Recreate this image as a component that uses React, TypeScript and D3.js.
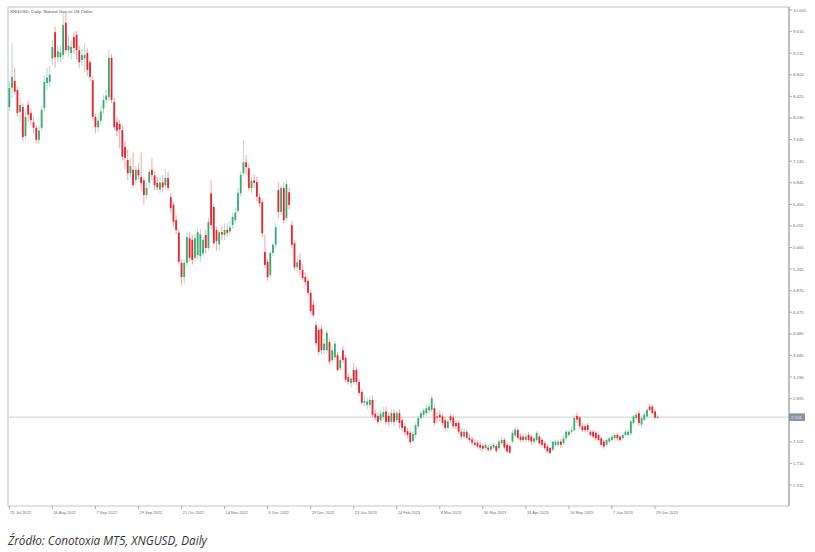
import * as d3 from 'd3';

// [open, high, low, close] per daily bar, grouped by month
type Bar = [number, number, number, number];

const jul22: Bar[] = [
  [8.23, 8.70, 8.15, 8.58], [8.58, 9.40, 8.40, 8.78], [8.71, 8.95, 8.45, 8.51], [8.54, 8.60, 8.05, 8.12],
  [8.14, 8.40, 7.95, 8.27],
];
const aug22: Bar[] = [
  [8.23, 8.30, 7.60, 7.68], [7.70, 8.15, 7.65, 8.05], [8.27, 8.35, 7.95, 8.09], [8.12, 8.20, 7.90, 7.99],
  [7.95, 8.05, 7.75, 7.85], [7.85, 7.90, 7.57, 7.63], [7.63, 7.90, 7.55, 7.80], [7.85, 8.25, 7.80, 8.18],
  [8.21, 8.80, 8.15, 8.69], [8.67, 8.95, 8.55, 8.77], [8.69, 8.98, 8.60, 8.82], [9.12, 9.45, 9.00, 9.33],
  [9.60, 9.70, 8.95, 9.14], [9.14, 9.35, 9.05, 9.25], [9.14, 9.35, 9.05, 9.23], [9.18, 9.95, 9.10, 9.73],
  [9.77, 9.98, 9.20, 9.27], [9.27, 9.55, 9.15, 9.35], [9.22, 9.45, 9.10, 9.33], [9.51, 9.60, 9.20, 9.31],
  [9.55, 9.62, 9.10, 9.27], [9.27, 9.35, 8.95, 9.05], [9.09, 9.30, 8.98, 9.18],
];
const sep22: Bar[] = [
  [9.12, 9.40, 8.87, 9.18], [9.22, 9.30, 8.80, 8.91], [9.05, 9.10, 8.70, 8.78], [8.72, 8.80, 7.98, 8.05],
  [8.05, 8.10, 7.75, 7.86], [7.86, 8.10, 7.78, 7.98], [7.98, 8.25, 7.90, 8.15], [8.20, 8.45, 8.10, 8.36],
  [8.36, 8.55, 8.30, 8.44], [8.41, 9.27, 8.35, 9.13], [9.13, 9.20, 8.30, 8.36], [8.32, 8.40, 7.80, 7.86],
  [7.95, 8.05, 7.70, 7.80], [7.92, 8.00, 7.48, 7.82], [7.81, 7.90, 7.25, 7.32], [7.50, 7.60, 7.10, 7.30],
  [7.26, 7.45, 6.90, 7.02], [7.02, 7.30, 6.95, 7.15], [7.08, 7.40, 6.75, 6.80], [6.89, 7.15, 6.80, 7.08],
  [7.08, 7.20, 6.90, 6.98], [6.95, 7.40, 6.70, 6.84],
];
const oct22: Bar[] = [
  [6.89, 6.95, 6.44, 6.62], [6.62, 6.85, 6.55, 6.75], [6.85, 7.10, 6.75, 7.04], [7.08, 7.30, 6.90, 6.99],
  [6.98, 7.05, 6.70, 6.80], [6.84, 6.95, 6.70, 6.76], [6.72, 6.95, 6.65, 6.85], [6.85, 6.98, 6.68, 6.76],
  [6.80, 7.10, 6.72, 6.93], [6.93, 7.05, 6.70, 6.75], [6.58, 6.65, 6.30, 6.38], [6.44, 6.50, 6.05, 6.13],
  [6.16, 6.25, 5.90, 5.98], [5.93, 6.00, 5.35, 5.40], [5.38, 5.45, 4.97, 5.12], [5.12, 5.45, 5.00, 5.38],
  [5.38, 5.95, 5.30, 5.85], [5.83, 5.95, 5.40, 5.47], [5.80, 5.90, 5.35, 5.43], [5.47, 5.90, 5.40, 5.83],
  [5.52, 6.00, 5.45, 5.94],
];
const nov22: Bar[] = [
  [5.50, 6.00, 5.40, 5.90], [5.55, 5.85, 5.50, 5.80], [5.89, 5.98, 5.55, 5.65], [5.65, 6.20, 5.60, 6.13],
  [6.65, 6.89, 6.00, 6.07], [6.40, 6.45, 5.70, 5.74], [5.98, 6.05, 5.60, 5.78], [5.72, 5.98, 5.60, 5.94],
  [5.94, 6.05, 5.80, 5.90], [5.89, 6.10, 5.80, 5.98], [5.98, 6.10, 5.85, 5.93], [5.95, 6.15, 5.90, 6.03],
  [6.07, 6.30, 6.00, 6.22], [6.16, 6.40, 6.10, 6.30], [6.33, 6.75, 6.28, 6.66], [6.65, 7.05, 6.60, 6.99],
  [7.02, 7.63, 6.95, 7.22], [7.22, 7.35, 7.00, 7.13], [7.11, 7.20, 6.70, 6.75], [6.75, 6.95, 6.65, 6.88],
  [6.89, 7.00, 6.75, 6.84], [6.86, 6.95, 6.50, 6.59],
];
const dec22: Bar[] = [
  [6.58, 6.65, 6.40, 6.47], [6.49, 6.55, 5.85, 5.92], [5.58, 5.90, 5.30, 5.34], [5.40, 5.45, 5.05, 5.12],
  [5.16, 5.60, 5.10, 5.56], [5.56, 5.75, 5.50, 5.71], [5.71, 6.10, 5.65, 6.03], [6.71, 6.85, 6.20, 6.31],
  [6.31, 6.80, 6.25, 6.75], [6.75, 6.85, 6.10, 6.16], [6.20, 6.90, 6.15, 6.82], [6.67, 6.75, 6.35, 6.44],
  [6.07, 6.15, 5.65, 5.71], [5.74, 5.80, 5.25, 5.30], [5.30, 5.50, 5.20, 5.39], [5.43, 5.55, 5.15, 5.25],
  [5.25, 5.35, 5.05, 5.10], [5.12, 5.20, 4.95, 5.03], [5.05, 5.10, 4.78, 4.83], [4.83, 4.88, 4.45, 4.50],
  [4.61, 4.70, 4.38, 4.42],
];
const jan23: Bar[] = [
  [4.24, 4.30, 3.85, 3.91], [4.15, 4.20, 3.70, 3.75], [4.17, 4.25, 3.70, 3.78], [3.78, 4.00, 3.70, 3.90],
  [3.78, 4.15, 3.72, 4.10], [3.93, 4.00, 3.52, 3.57], [3.60, 3.85, 3.55, 3.78], [3.65, 3.95, 3.60, 3.90],
  [3.69, 3.75, 3.38, 3.42], [3.45, 3.65, 3.40, 3.60], [3.78, 3.85, 3.55, 3.60], [3.64, 3.70, 3.20, 3.24],
  [3.29, 3.35, 3.15, 3.20], [3.18, 3.32, 3.10, 3.26], [3.42, 3.55, 3.15, 3.20], [3.42, 3.48, 3.15, 3.20],
  [3.20, 3.25, 2.95, 3.00], [3.02, 3.08, 2.78, 2.82], [2.82, 2.95, 2.75, 2.85], [2.78, 2.92, 2.70, 2.84],
  [2.78, 2.95, 2.72, 2.87],
];
const feb23: Bar[] = [
  [2.87, 2.95, 2.55, 2.60], [2.62, 2.70, 2.50, 2.55], [2.58, 2.65, 2.42, 2.47], [2.50, 2.68, 2.45, 2.62],
  [2.56, 2.75, 2.50, 2.65], [2.66, 2.75, 2.42, 2.47], [2.58, 2.65, 2.40, 2.47], [2.47, 2.70, 2.42, 2.63],
  [2.63, 2.70, 2.40, 2.47], [2.50, 2.68, 2.45, 2.63], [2.63, 2.70, 2.35, 2.45], [2.50, 2.55, 2.30, 2.36],
  [2.39, 2.45, 2.22, 2.28], [2.30, 2.35, 2.18, 2.23], [2.27, 2.32, 2.05, 2.10], [2.12, 2.30, 2.08, 2.25],
  [2.23, 2.45, 2.18, 2.41], [2.39, 2.58, 2.35, 2.54], [2.54, 2.68, 2.50, 2.63], [2.60, 2.72, 2.55, 2.68],
];
const mar23: Bar[] = [
  [2.63, 2.78, 2.58, 2.72], [2.68, 2.82, 2.62, 2.75], [2.69, 2.95, 2.65, 2.90], [2.72, 2.80, 2.40, 2.45],
  [2.57, 2.65, 2.45, 2.55], [2.60, 2.68, 2.48, 2.55], [2.57, 2.62, 2.40, 2.45], [2.50, 2.55, 2.30, 2.36],
  [2.36, 2.52, 2.32, 2.48], [2.57, 2.62, 2.45, 2.50], [2.55, 2.60, 2.35, 2.39], [2.45, 2.50, 2.33, 2.39],
  [2.45, 2.50, 2.25, 2.29], [2.29, 2.35, 2.15, 2.20], [2.20, 2.35, 2.15, 2.29], [2.29, 2.33, 2.15, 2.18],
  [2.18, 2.25, 2.10, 2.14], [2.15, 2.20, 2.05, 2.09], [2.09, 2.15, 2.02, 2.05], [2.09, 2.13, 1.98, 2.02],
  [2.05, 2.12, 1.95, 2.00], [2.03, 2.08, 1.93, 1.98], [1.99, 2.10, 1.95, 2.05],
];
const apr23: Bar[] = [
  [2.00, 2.05, 1.92, 1.96], [1.96, 2.06, 1.92, 2.03], [2.00, 2.10, 1.97, 2.05], [2.03, 2.07, 1.90, 1.94],
  [1.99, 2.15, 1.95, 2.11], [2.08, 2.20, 2.04, 2.14], [2.14, 2.18, 1.96, 2.00], [2.05, 2.08, 1.90, 1.93],
  [2.03, 2.06, 1.88, 1.91], [2.11, 2.32, 2.08, 2.27], [2.22, 2.38, 2.18, 2.33], [2.32, 2.36, 2.15, 2.18],
  [2.20, 2.25, 2.10, 2.14], [2.20, 2.24, 2.10, 2.14], [2.14, 2.25, 2.10, 2.20], [2.23, 2.28, 2.10, 2.14],
  [2.20, 2.24, 2.05, 2.11], [2.11, 2.20, 2.05, 2.17], [2.14, 2.30, 2.10, 2.27],
];
const may23: Bar[] = [
  [2.20, 2.25, 2.05, 2.08], [2.14, 2.18, 2.00, 2.05], [2.08, 2.12, 1.95, 1.99], [2.02, 2.06, 1.90, 1.93],
  [1.99, 2.02, 1.88, 1.90], [1.96, 2.12, 1.93, 2.11], [2.05, 2.14, 2.02, 2.11], [2.05, 2.15, 2.02, 2.11],
  [2.11, 2.16, 2.00, 2.05], [2.08, 2.22, 2.05, 2.17], [2.17, 2.32, 2.13, 2.29], [2.23, 2.33, 2.20, 2.29],
  [2.29, 2.38, 2.25, 2.32], [2.32, 2.60, 2.30, 2.54], [2.58, 2.64, 2.45, 2.51], [2.55, 2.58, 2.35, 2.39],
  [2.39, 2.45, 2.28, 2.32], [2.39, 2.44, 2.28, 2.32], [2.41, 2.45, 2.28, 2.32], [2.29, 2.33, 2.20, 2.23],
  [2.29, 2.32, 2.16, 2.20], [2.27, 2.30, 2.12, 2.17], [2.23, 2.27, 2.10, 2.14],
];
const jun23: Bar[] = [
  [2.17, 2.20, 2.02, 2.05], [2.11, 2.14, 1.98, 2.02], [2.05, 2.16, 2.02, 2.14], [2.11, 2.20, 2.08, 2.17],
  [2.14, 2.23, 2.10, 2.20], [2.17, 2.26, 2.13, 2.23], [2.23, 2.27, 2.12, 2.17], [2.20, 2.24, 2.10, 2.14],
  [2.17, 2.26, 2.13, 2.23], [2.23, 2.32, 2.20, 2.29], [2.23, 2.33, 2.20, 2.29], [2.26, 2.50, 2.22, 2.48],
  [2.45, 2.60, 2.42, 2.57], [2.54, 2.65, 2.50, 2.60], [2.63, 2.68, 2.40, 2.45], [2.42, 2.58, 2.38, 2.54],
  [2.51, 2.65, 2.48, 2.60], [2.57, 2.72, 2.53, 2.69], [2.75, 2.80, 2.66, 2.69], [2.75, 2.79, 2.62, 2.63],
  [2.66, 2.70, 2.52, 2.55], [2.56, 2.60, 2.54, 2.556],
];

const candles: Bar[] = [
  ...jul22, ...aug22, ...sep22, ...oct22, ...nov22, ...dec22,
  ...jan23, ...feb23, ...mar23, ...apr23, ...may23, ...jun23,
];

// one date label every 16 bars
const tickLabels = [
  '25 Jul 2022', '16 Aug 2022', '7 Sep 2022', '29 Sep 2022', '21 Oct 2022', '14 Nov 2022',
  '6 Dec 2022', '29 Dec 2022', '23 Jan 2023', '14 Feb 2023', '8 Mar 2023', '30 Mar 2023',
  '24 Apr 2023', '16 May 2023', '7 Jun 2023', '29 Jun 2023',
];
const tickStep = 16;

// 2.500 sits under the current-price tag in the original, so only its tick mark shows
const priceTicks = [
  '10.005', '9.610', '9.215', '8.820', '8.425', '8.030', '7.635', '7.240', '6.845', '6.450', '6.055',
  '5.660', '5.265', '4.870', '4.475', '4.080', '3.685', '3.290', '2.895', '2.500', '2.105', '1.710', '1.315',
];

const title = 'XNGUSD, Daily:  Natural Gas vs US Dollar';
const caption = 'Źródło: Conotoxia MT5, XNGUSD, Daily';

const UP = '#3aa971';
const DOWN = '#e8232b';
const FRAME = '#c4c4c4';
const AXIS_TEXT = '#6f6f6f';
const FONT = '"Liberation Sans", Arial, sans-serif';

export default function App() {
  const left = 8;
  const right = 789;
  const top = 7;
  const bottom = 506;

  const x = d3.scaleLinear().domain([-0.5, 289.8]).range([left, right]);
  const y = d3.scaleLinear().domain([0.931, 10.06]).range([bottom, top]);

  const bodyW = 1.8;
  const last = candles[candles.length - 1][3];
  const tagH = 7.6;
  const hiddenByTag = (v: number) => Math.abs(y(v) - y(last)) < tagH;

  return (
    <div style={{ position: 'absolute', left: 0, top: 0 }}>
      <svg width={815} height={552} style={{ display: 'block', background: '#fff' }}>
        {/* frame */}
        <rect x={left} y={top} width={right - left} height={bottom - top} fill="none" stroke={FRAME} strokeWidth={1} />

        <text x={left + 2} y={top + 6} fontFamily={FONT} fontSize={4.4} fill="#555">
          {title}
        </text>

        {/* current price line */}
        <line x1={left} x2={right} y1={y(last)} y2={y(last)} stroke="#dadada" strokeWidth={1.3} />

        {/* candles */}
        {candles.map(([o, h, l, c], i) => {
          const col = c >= o ? UP : DOWN;
          const cx = x(i);
          const y0 = y(Math.max(o, c));
          const y1 = y(Math.min(o, c));
          return (
            <g key={i}>
              <line x1={cx} x2={cx} y1={y(h)} y2={y(l)} stroke={col} strokeWidth={0.8} opacity={0.5} />
              <rect x={cx - bodyW / 2} y={y0} width={bodyW} height={Math.max(0.8, y1 - y0)} fill={col} />
            </g>
          );
        })}

        {/* price axis */}
        <line x1={right} x2={right} y1={top} y2={bottom} stroke="#9a9a9a" strokeWidth={1} />
        {priceTicks.map((t) => (
          <g key={t}>
            <line x1={right} x2={right + 3} y1={y(+t)} y2={y(+t)} stroke="#9a9a9a" strokeWidth={0.8} />
            {!hiddenByTag(+t) && (
              <text x={right + 4} y={y(+t) + 1.5} fontFamily={FONT} fontSize={4.3} fill={AXIS_TEXT}>
                {t}
              </text>
            )}
          </g>
        ))}
        <rect x={right} y={y(last) - tagH / 2} width={16} height={tagH} fill="#8a939e" />
        <text x={right + 2} y={y(last) + 1.5} fontFamily={FONT} fontSize={4.3} fill="#e8ecf0">
          {d3.format('.3f')(last)}
        </text>

        {/* time axis */}
        {tickLabels.map((lab, k) => {
          const tx = x(k * tickStep);
          return (
            <g key={lab}>
              <line x1={tx} x2={tx} y1={bottom} y2={bottom + 3} stroke="#9a9a9a" strokeWidth={0.8} />
              <text x={tx + 1} y={bottom + 7.5} fontFamily={FONT} fontSize={4} fill={AXIS_TEXT}>
                {lab}
              </text>
            </g>
          );
        })}

        <text
          x={8}
          y={545}
          fontFamily='"Open Sans", sans-serif'
          fontStyle="italic"
          fontSize={12.5}
          fill="#333"
          textLength={199}
          lengthAdjust="spacingAndGlyphs"
        >
          {caption}
        </text>
      </svg>
    </div>
  );
}
